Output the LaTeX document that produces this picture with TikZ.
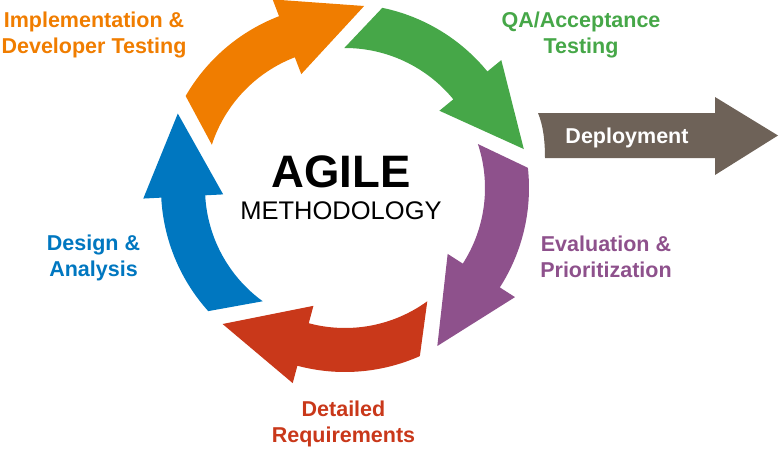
\documentclass[tikz,border=0pt]{standalone}
\usepackage{fontspec}
\setmainfont{Liberation Sans}
\definecolor{agorange}{RGB}{240,125,0}
\definecolor{aggreen}{RGB}{70,167,72}
\definecolor{agpurple}{RGB}{142,81,140}
\definecolor{agred}{RGB}{201,56,26}
\definecolor{agblue}{RGB}{0,119,192}
\definecolor{agdeploy}{RGB}{110,98,88}
\newcommand\agarrow[2]{%
  \fill[#2] (#1:184) -- ({#1+12}:140)
    arc[start angle={#1+12}, end angle={#1-39}, radius=140]
    -- ({#1-39}:122) -- ({#1-66}:183) -- ({#1-39}:202) -- ({#1-39}:184)
    arc[start angle={#1-39}, end angle={#1}, radius=184] -- cycle;}
\tikzset{
  lbl/.style={font=\fontsize{21.5}{26}\selectfont\bfseries, align=center, anchor=base, inner sep=0pt},
}
\begin{document}
\begin{tikzpicture}[x=1pt,y=1pt]
\useasboundingbox (0,0) rectangle (780,-450);
\begin{scope}[shift={(345,-188)}]
  \agarrow{150}{agorange}
  \agarrow{78.3}{aggreen}
  \agarrow{6.3}{agpurple}
  \agarrow{-66}{agred}
  \agarrow{-138}{agblue}
\end{scope}
% deployment arrow
\fill[agdeploy] (538,-113) -- (715,-113) -- (715,-97) -- (778,-135.5) -- (715,-175) -- (715,-158) -- (545,-158)
  .. controls (545,-140) and (543,-125) .. (538,-113) -- cycle;
\node[lbl, text=white] (dep) at (627,-143) {Deployment};
% center text
\node[anchor=base, inner sep=0pt, font=\fontsize{45.5}{50}\selectfont\bfseries] (agile) at (341,-187) {AGILE};
\node[anchor=base, inner sep=0pt, font=\fontsize{25.5}{30}\selectfont] (meth) at (341,-219) {METHODOLOGY};
% labels (base anchor = baseline of last line)
\node[lbl, text=agorange] (impl) at (94,-53) {Implementation \&\\Developer Testing};
\node[lbl, text=aggreen] (qa) at (581,-53) {QA/Acceptance\\Testing};
\node[lbl, text=agpurple] (eval) at (606,-277) {Evaluation \&\\Prioritization};
\node[lbl, text=agred] (det) at (343.5,-442) {Detailed\\Requirements};
\node[lbl, text=agblue] (des) at (93.5,-276) {Design \&\\Analysis};
\end{tikzpicture}
\end{document}
